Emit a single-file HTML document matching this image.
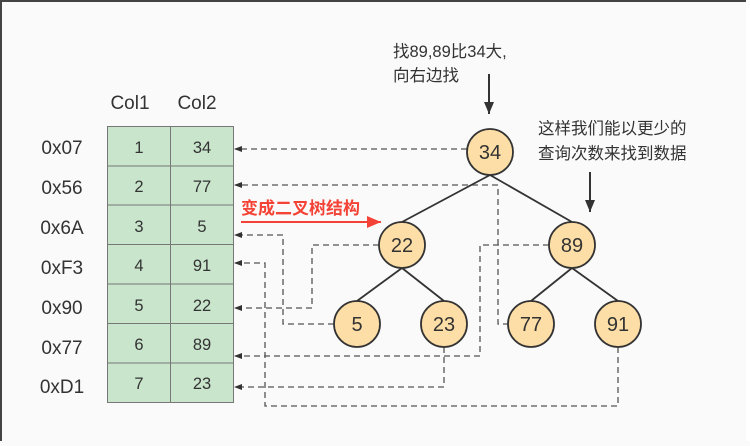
<!DOCTYPE html>
<html><head><meta charset="utf-8"><style>
body{margin:0;width:750px;height:441px;overflow:hidden;background:#fafafa}
svg text{font-family:"Liberation Sans","Noto Sans CJK SC",sans-serif;fill:#333}
</style></head><body>
<svg width="750" height="441" viewBox="0 0 750 441" xmlns="http://www.w3.org/2000/svg">
<defs>
<marker id="a" markerWidth="8" markerHeight="8" refX="7" refY="4" orient="auto" markerUnits="userSpaceOnUse"><path d="M0,1 L8,4 L0,7 z" fill="#333"/></marker>
<marker id="b" markerWidth="12" markerHeight="12" refX="12" refY="6" orient="auto" markerUnits="userSpaceOnUse"><path d="M0,1 L12,6 L0,11 z" fill="#333"/></marker>
<marker id="r" markerWidth="14" markerHeight="12" refX="14" refY="6" orient="auto" markerUnits="userSpaceOnUse"><path d="M0,0 L14,6 L0,12 z" fill="#f44336"/></marker>
</defs>
<rect x="0" y="0" width="750" height="2" fill="#444"/>
<rect x="0" y="0" width="2" height="441" fill="#444"/>
<rect x="746" y="0" width="4" height="441" fill="#fff"/>
<g stroke="#777" stroke-width="1" fill="#c9e6cd">
<rect x="107.5" y="126.5" width="126" height="276"/>
<line x1="170.5" y1="126" x2="170.5" y2="402"/>
<line x1="107" y1="166" x2="233" y2="166"/>
<line x1="107" y1="205" x2="233" y2="205"/>
<line x1="107" y1="244.5" x2="233" y2="244.5"/>
<line x1="107" y1="284" x2="233" y2="284"/>
<line x1="107" y1="323.5" x2="233" y2="323.5"/>
<line x1="107" y1="363" x2="233" y2="363"/>
</g>
<g font-size="19" text-anchor="middle">
<text x="130" y="109">Col1</text><text x="197" y="109">Col2</text>
</g>
<g font-size="19" text-anchor="middle">
<text x="62" y="154">0x07</text><text x="62" y="194">0x56</text><text x="62" y="234">0x6A</text>
<text x="62" y="274">0xF3</text><text x="62" y="314">0x90</text><text x="62" y="354">0x77</text><text x="62" y="393">0xD1</text>
</g>
<g font-size="16.5" text-anchor="middle">
<text x="139" y="153">1</text><text x="202" y="153">34</text>
<text x="139" y="192">2</text><text x="202" y="192">77</text>
<text x="139" y="232">3</text><text x="202" y="232">5</text>
<text x="139" y="271">4</text><text x="202" y="271">91</text>
<text x="139" y="311">5</text><text x="202" y="311">22</text>
<text x="139" y="350">6</text><text x="202" y="350">89</text>
<text x="139" y="389">7</text><text x="202" y="389">23</text>
</g>
<g stroke="#555" stroke-width="1.3" fill="none" stroke-dasharray="6,4" marker-end="url(#a)">
<path d="M467,149 H235"/>
<path d="M509,324 H498 V185 H235"/>
<path d="M334,324 H283 V235 H235"/>
<path d="M379,245 H312 V308 H235"/>
<path d="M618,347 V406 H265 V263 H235"/>
<path d="M549,245 H480 V356 H235"/>
<path d="M444,347 V387 H235"/>
</g>
<g stroke="#333" stroke-width="1.8">
<line x1="490" y1="175" x2="402" y2="222"/>
<line x1="490" y1="175" x2="572" y2="222"/>
<line x1="402" y1="268" x2="357" y2="301"/>
<line x1="402" y1="268" x2="444" y2="301"/>
<line x1="572" y1="268" x2="531" y2="301"/>
<line x1="572" y1="268" x2="618" y2="301"/>
</g>
<g fill="#fddea6" stroke="#333" stroke-width="1.8">
<circle cx="490" cy="152" r="23"/><circle cx="402" cy="245" r="23"/><circle cx="572" cy="245" r="23"/>
<circle cx="357" cy="324" r="23"/><circle cx="444" cy="324" r="23"/><circle cx="531" cy="324" r="23"/><circle cx="618" cy="324" r="23"/>
</g>
<g font-size="20" text-anchor="middle">
<text x="490" y="159">34</text><text x="402" y="252">22</text><text x="572" y="252">89</text>
<text x="357" y="331">5</text><text x="444" y="331">23</text><text x="531" y="331">77</text><text x="618" y="331">91</text>
</g>
<text x="241" y="214" font-size="17" font-weight="bold" style="fill:#f44336">变成二叉树结构</text>
<line x1="241" y1="222" x2="381" y2="222" stroke="#f44336" stroke-width="2" marker-end="url(#r)"/>
<g font-size="16.5">
<text x="393" y="57">找89,89比34大,</text>
<text x="393" y="81">向右边找</text>
<text x="538" y="134">这样我们能以更少的</text>
<text x="538" y="159">查询次数来找到数据</text>
</g>
<line x1="489" y1="74" x2="489" y2="114" stroke="#333" stroke-width="2" marker-end="url(#b)"/>
<line x1="590" y1="172" x2="590" y2="212" stroke="#333" stroke-width="2" marker-end="url(#b)"/>
</svg>
</body></html>
